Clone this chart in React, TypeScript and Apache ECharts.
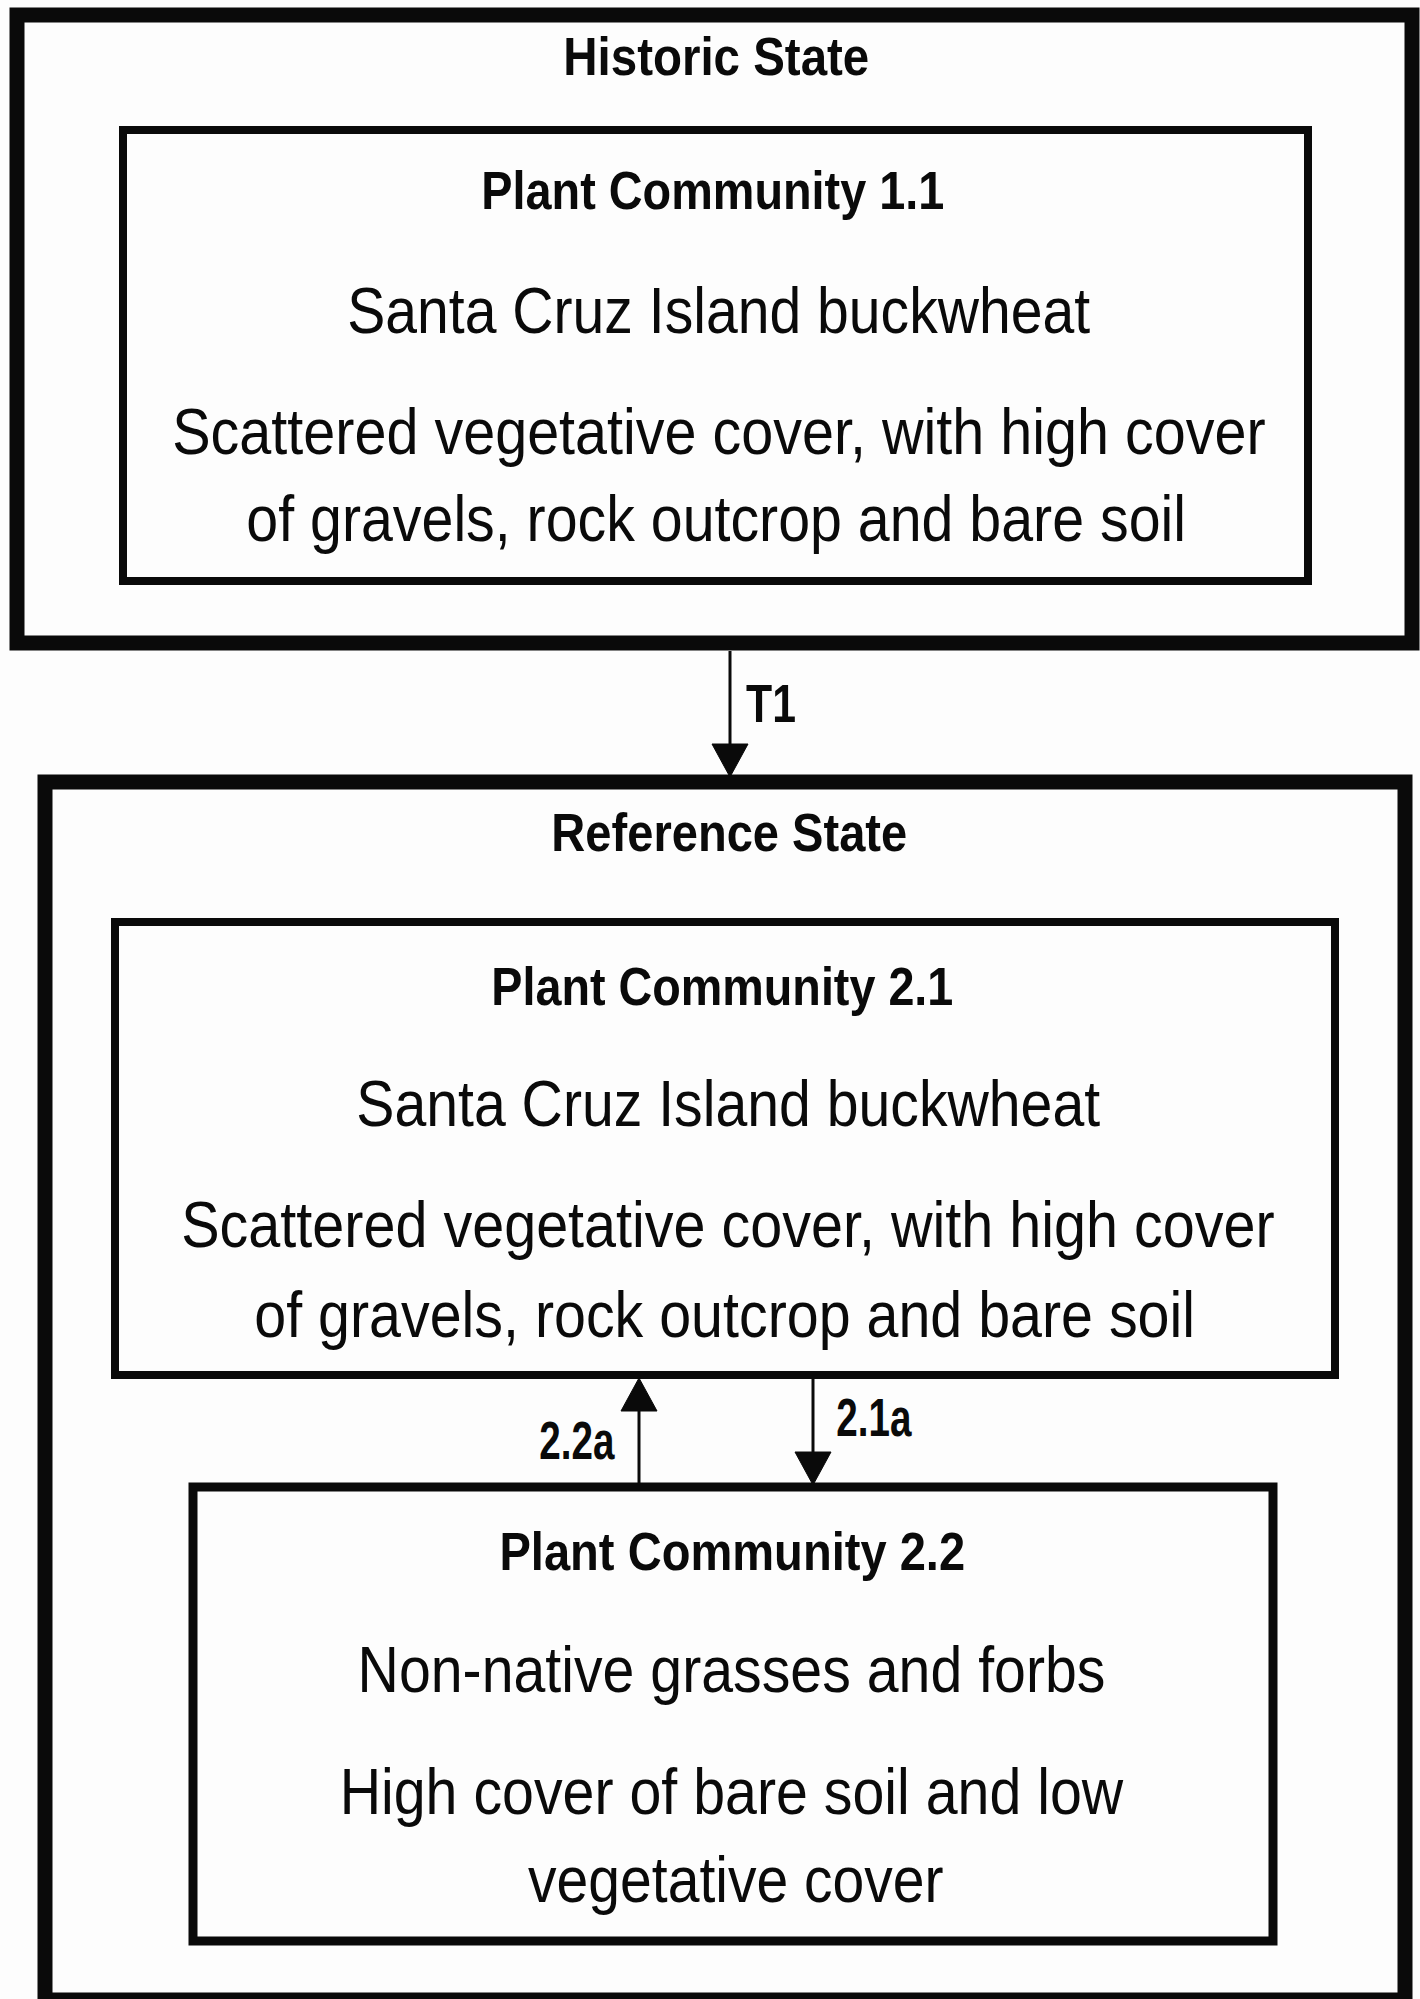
import React, { useEffect, useRef } from "react";
import * as echarts from "echarts";

// ---- Text content ----
const stateTitles = ["Historic State", "Reference State"];
const communityTitles = ["Plant Community 1.1", "Plant Community 2.1", "Plant Community 2.2"];
const community11Lines = [
  "Santa Cruz Island buckwheat",
  "Scattered vegetative cover, with high cover",
  "of gravels, rock outcrop and bare soil",
];
const community21Lines = [
  "Santa Cruz Island buckwheat",
  "Scattered vegetative cover, with high cover",
  "of gravels, rock outcrop and bare soil",
];
const community22Lines = [
  "Non-native grasses and forbs",
  "High cover of bare soil and low",
  "vegetative cover",
];
const transitionLabels = ["T1", "2.2a", "2.1a"];

// ---- Layout ----
const W = 1420;
const H = 1999;
const FAMILY = '"Liberation Sans", Arial, sans-serif';
const INK = "#0a0a0a";

// boxes: stroke-centre rectangles
const boxes = [
  { x: 17, y: 15, w: 1395, h: 628, lw: 15 }, // historic state
  { x: 123, y: 130, w: 1185, h: 451, lw: 8 }, // PC 1.1
  { x: 45, y: 782, w: 1360, h: 1218, lw: 15 }, // reference state
  { x: 115, y: 922, w: 1220, h: 453, lw: 8 }, // PC 2.1
  { x: 193, y: 1487, w: 1080, h: 454, lw: 9 }, // PC 2.2
];

// arrows: x, from y (tail), to y (tip)
const arrows = [
  { x: 730, y1: 651, y2: 777 },
  { x: 639, y1: 1487, y2: 1378 },
  { x: 813, y1: 1378, y2: 1485 },
];
const HEAD_W = 36;
const HEAD_L = 33;

type Spec = { text: string; l: number; r: number; base: number; cap: number; bold: boolean };

const REG = 45;
const BOLD = 37;
const LAB = 38;

const specs: Spec[] = [
  { text: stateTitles[0], l: 566, r: 868, base: 76, cap: BOLD, bold: true },
  { text: communityTitles[0], l: 484, r: 943, base: 210, cap: BOLD, bold: true },
  { text: community11Lines[0], l: 349, r: 1090, base: 333, cap: REG, bold: false },
  { text: community11Lines[1], l: 174, r: 1265, base: 454, cap: REG, bold: false },
  { text: community11Lines[2], l: 248, r: 1183, base: 541, cap: REG, bold: false },
  { text: transitionLabels[0], l: 746, r: 795, base: 722, cap: LAB, bold: true },
  { text: stateTitles[1], l: 554, r: 906, base: 852, cap: BOLD, bold: true },
  { text: communityTitles[1], l: 494, r: 952, base: 1005, cap: BOLD, bold: true },
  { text: community21Lines[0], l: 358, r: 1100, base: 1126, cap: REG, bold: false },
  { text: community21Lines[1], l: 183, r: 1274, base: 1247, cap: REG, bold: false },
  { text: community21Lines[2], l: 256, r: 1192, base: 1337, cap: REG, bold: false },
  { text: transitionLabels[1], l: 540, r: 615, base: 1458, cap: LAB, bold: true },
  { text: transitionLabels[2], l: 837, r: 912, base: 1435, cap: LAB, bold: true },
  { text: communityTitles[2], l: 502, r: 964, base: 1571, cap: BOLD, bold: true },
  { text: community22Lines[0], l: 362, r: 1104, base: 1692, cap: REG, bold: false },
  { text: community22Lines[1], l: 344, r: 1124, base: 1814, cap: REG, bold: false },
  { text: community22Lines[2], l: 528, r: 943, base: 1902, cap: REG, bold: false },
];

function buildTexts() {
  const canvas = document.createElement("canvas");
  const ctx = canvas.getContext("2d")!;
  ctx.textAlign = "center";
  ctx.textBaseline = "alphabetic";
  return specs.map((s) => {
    const weight = s.bold ? "bold" : "normal";
    ctx.font = `${weight} 100px ${FAMILY}`;
    const hm = ctx.measureText("H");
    const capRatio = (hm.actualBoundingBoxAscent || 71.6) / 100;
    const fs = s.cap / capRatio;
    ctx.font = `${weight} ${fs}px ${FAMILY}`;
    const m = ctx.measureText(s.text);
    const L = m.actualBoundingBoxLeft;
    const R = m.actualBoundingBoxRight;
    const ink = L + R || m.width;
    const target = s.r - s.l;
    const sx = target / ink;
    const cx = (s.l + s.r) / 2 - (sx * (R - L)) / 2;
    const fa = (m as any).fontBoundingBoxAscent ?? fs * 0.905;
    const fd = (m as any).fontBoundingBoxDescent ?? fs * 0.212;
    const y = s.base - (fa - fd) / 2;
    return {
      type: "text",
      x: cx,
      y,
      scaleX: sx,
      silent: true,
      style: {
        text: s.text,
        x: 0,
        y: 0,
        fill: INK,
        fontSize: fs,
        fontWeight: weight,
        fontFamily: FAMILY,
        align: "center",
        verticalAlign: "middle",
      },
    };
  });
}

function buildShapes() {
  const els: any[] = [];
  boxes.forEach((b) => {
    els.push({
      type: "rect",
      shape: { x: b.x, y: b.y, width: b.w, height: b.h },
      style: { fill: "none", stroke: INK, lineWidth: b.lw },
      silent: true,
    });
  });
  arrows.forEach((a) => {
    const dir = a.y2 > a.y1 ? 1 : -1;
    const baseY = a.y2 - dir * HEAD_L;
    els.push({
      type: "line",
      shape: { x1: a.x, y1: a.y1, x2: a.x, y2: baseY },
      style: { stroke: INK, lineWidth: 3 },
      silent: true,
    });
    els.push({
      type: "polygon",
      shape: {
        points: [
          [a.x, a.y2],
          [a.x - HEAD_W / 2, baseY],
          [a.x + HEAD_W / 2, baseY],
        ],
      },
      style: { fill: INK, stroke: INK, lineWidth: 1 },
      silent: true,
    });
  });
  return els;
}

export default function App() {
  const ref = useRef<HTMLDivElement>(null);
  useEffect(() => {
    if (!ref.current) return;
    const chart = echarts.init(ref.current, null, { renderer: "svg", width: W, height: H });
    chart.setOption({
      animation: false,
      backgroundColor: "#fdfdfd",
      graphic: { elements: [...buildShapes(), ...buildTexts()] },
    });
    return () => chart.dispose();
  }, []);
  return (
    <div
      ref={ref}
      style={{ position: "absolute", left: 0, top: 0, width: W, height: H, overflow: "hidden" }}
    />
  );
}
